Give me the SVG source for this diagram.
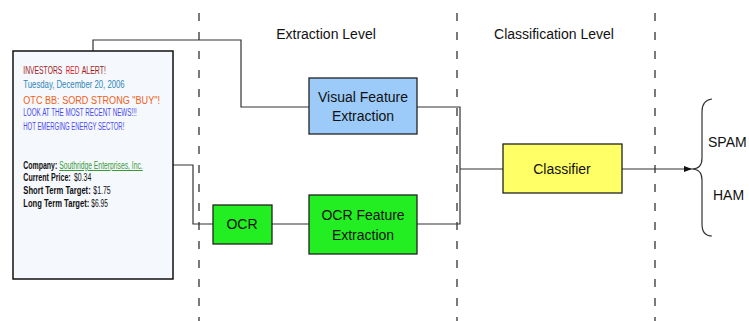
<svg xmlns="http://www.w3.org/2000/svg" width="749" height="321" viewBox="0 0 749 321">
<style>
.lbl{font-family:"Liberation Sans",Arial,sans-serif;font-size:14px;fill:#111;text-anchor:middle}
.lft{font-family:"Liberation Sans",Arial,sans-serif;font-size:14px;fill:#111}
.box{stroke:#222;stroke-width:1.3}
.conn{fill:none;stroke:#333;stroke-width:1.2}
.dash{stroke:#333;stroke-width:1.3;stroke-dasharray:8 11}
.em{font-family:"Liberation Sans",Arial,sans-serif;font-size:10px}
.b{font-weight:bold;fill:#111}
.v{fill:#111}
.blue{fill:#4a4af0}
</style>
<defs>
<marker id="arr" markerWidth="8" markerHeight="6" refX="8" refY="3" orient="auto" markerUnits="userSpaceOnUse">
<path d="M0,0 L8,3 L0,6 z" fill="#111"/>
</marker>
</defs>
<rect width="749" height="321" fill="#fff"/>
<g id="levels">
<line class="dash" x1="199" y1="13" x2="199" y2="321"/>
<line class="dash" x1="457" y1="13" x2="457" y2="321"/>
<line class="dash" x1="655" y1="13" x2="655" y2="321"/>
<text class="lbl" x="326" y="39">Extraction Level</text>
<text class="lbl" x="554" y="39">Classification Level</text>
</g>
<g id="connectors">
<path class="conn" d="M93,51 V40 H241 V107 H309"/>
<path class="conn" d="M173,165 H193 V224 H213"/>
<path class="conn" d="M272,224 H309"/>
<path class="conn" d="M417,107 H460 V224 H417"/>
<path class="conn" d="M460,169 H503"/>
<path class="conn" d="M622,169 H692" marker-end="url(#arr)"/>
</g>
<g id="email">
<rect x="13" y="51" width="160" height="228" fill="#f5f8fc" stroke="#111" stroke-width="1.5"/>
<text class="em" x="23.3" y="74" textLength="39" lengthAdjust="spacingAndGlyphs" fill="#a01818">INVESTORS</text>
<text class="em" x="65.7" y="74" textLength="13.6" lengthAdjust="spacingAndGlyphs" fill="#e02020">RED</text>
<text class="em" x="81.7" y="74" textLength="24.3" lengthAdjust="spacingAndGlyphs" fill="#a01818">ALERT!</text>
<text class="em" x="23.3" y="87.5" textLength="101.4" lengthAdjust="spacingAndGlyphs" fill="#2f86b8">Tuesday, December 20, 2006</text>
<text class="em" x="23.3" y="104" textLength="136.7" lengthAdjust="spacingAndGlyphs" fill="#f06020" font-size="13.5">OTC BB: SORD STRONG "BUY"!</text>
<text class="em blue" x="23.3" y="116" textLength="113.4" lengthAdjust="spacingAndGlyphs">LOOK AT THE MOST RECENT NEWS!!!</text>
<text class="em blue" x="23.3" y="129.5" textLength="101" lengthAdjust="spacingAndGlyphs">HOT EMERGING ENERGY SECTOR!</text>
<text class="em b" x="23.3" y="169" textLength="34" lengthAdjust="spacingAndGlyphs">Company:</text>
<text class="em" x="59.3" y="169" textLength="83.4" lengthAdjust="spacingAndGlyphs" fill="#3a9a3a" text-decoration="underline">Southridge Enterprises, Inc.</text>
<text class="em b" x="23.3" y="181" textLength="47.4" lengthAdjust="spacingAndGlyphs">Current Price:</text>
<text class="em v" x="74" y="181" textLength="17.3" lengthAdjust="spacingAndGlyphs">$0.34</text>
<text class="em b" x="23.3" y="193.7" textLength="67.4" lengthAdjust="spacingAndGlyphs">Short Term Target:</text>
<text class="em v" x="93.3" y="193.7" textLength="17.4" lengthAdjust="spacingAndGlyphs">$1.75</text>
<text class="em b" x="23.3" y="206.7" textLength="66" lengthAdjust="spacingAndGlyphs">Long Term Target:</text>
<text class="em v" x="91.3" y="206.7" textLength="16.7" lengthAdjust="spacingAndGlyphs">$6.95</text>
</g>
<g id="visual">
<rect class="box" x="309" y="78" width="108" height="56" fill="#9ccbfa"/>
<text class="lbl" x="363" y="102">Visual Feature</text>
<text class="lbl" x="363" y="121">Extraction</text>
</g>
<g id="ocr">
<rect class="box" x="213" y="205" width="59" height="39" fill="#22ee22"/>
<text class="lbl" x="242" y="229">OCR</text>
</g>
<g id="ocrfeat">
<rect class="box" x="309" y="195" width="108" height="59" fill="#22ee22"/>
<text class="lbl" x="363" y="220">OCR Feature</text>
<text class="lbl" x="363" y="240">Extraction</text>
</g>
<g id="classifier">
<rect class="box" x="503" y="144" width="119" height="49" fill="#ffff66"/>
<text class="lbl" x="562" y="174">Classifier</text>
</g>
<g id="output">
<path class="conn" d="M712,99 Q702,100 702,112 V158 Q702,169 692,169 Q702,169 702,180 V224 Q702,236 712,236"/>
<text class="lft" x="708" y="147">SPAM</text>
<text class="lft" x="713" y="200">HAM</text>
</g>
</svg>
